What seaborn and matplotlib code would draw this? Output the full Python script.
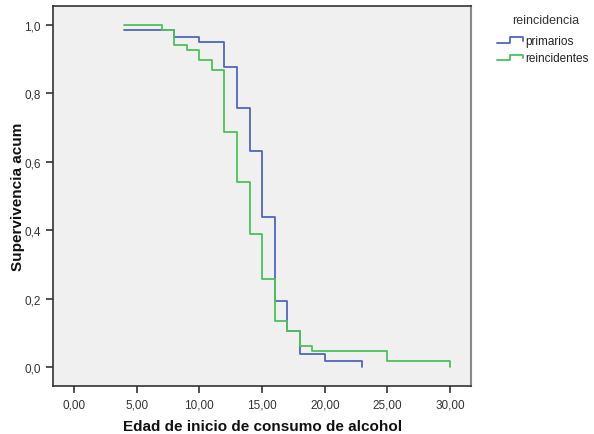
import matplotlib
matplotlib.use("Agg")
import matplotlib.pyplot as plt
import seaborn as sns
import pandas as pd
from matplotlib.legend_handler import HandlerBase
from matplotlib.lines import Line2D

# Data (Kaplan-Meier step values)
t_prim = [4, 8, 10, 12, 13, 14, 15, 16, 17, 18, 20, 23]
s_prim = [0.985, 0.965, 0.950, 0.878, 0.757, 0.632, 0.440, 0.194, 0.107, 0.038, 0.018, 0.0]
t_rein = [4, 7, 8, 9, 10, 11, 12, 13, 14, 15, 16, 17, 18, 19, 25, 30]
s_rein = [1.0, 0.986, 0.942, 0.927, 0.898, 0.867, 0.688, 0.540, 0.390, 0.257, 0.136, 0.107, 0.061, 0.046, 0.017, 0.0]
groups = ["primarios", "reincidentes"]
legend_title = "reincidencia"
xticks = [0, 5, 10, 15, 20, 25, 30]
xticklabels = ["0,00", "5,00", "10,00", "15,00", "20,00", "25,00", "30,00"]
yticks = [0.0, 0.2, 0.4, 0.6, 0.8, 1.0]
yticklabels = ["0,0", "0,2", "0,4", "0,6", "0,8", "1,0"]

df = pd.concat([
    pd.DataFrame({"t": t_prim, "s": s_prim, "reincidencia": groups[0]}),
    pd.DataFrame({"t": t_rein, "s": s_rein, "reincidencia": groups[1]}),
])

sns.set_style("white")
plt.rcParams["font.family"] = ["Liberation Sans", "DejaVu Sans"]

colors = {"primarios": "#4f67bd", "reincidentes": "#4cc25a"}

fig = plt.figure(figsize=(5.94, 4.35), dpi=100)
ax = fig.add_axes([53.3 / 594, 48 / 435, (471 - 53.3) / 594, (387 - 7.3) / 435])
ax.set_facecolor("#f0f0f0")

sns.lineplot(data=df, x="t", y="s", hue="reincidencia", palette=colors,
             estimator=None, sort=True, drawstyle="steps-post", linewidth=1.3,
             ax=ax, legend=False)

ax.set_xlim(-1.65, 31.66)
ax.set_ylim(-0.055, 1.054)
ax.set_xticks(xticks)
ax.set_xticklabels(xticklabels)
ax.set_yticks(yticks)
ax.set_yticklabels(yticklabels)
ax.tick_params(axis="both", direction="out", length=5, width=1.2, color="#333333",
               labelsize=8.5, labelcolor="#333333", pad=4)
ax.xaxis.set_tick_params(bottom=True)
ax.yaxis.set_tick_params(left=True)
for side, sp in ax.spines.items():
    sp.set_visible(True)
    sp.set_color("#333333")
    sp.set_linewidth(1.2)
ax.spines["right"].set_color("#888888")
ax.spines["right"].set_linewidth(1.5)

ax.set_xlabel("Edad de inicio de consumo de alcohol", fontsize=11, fontweight="bold",
              color="#111111", labelpad=6)
ax.set_ylabel("Supervivencia acum", fontsize=11, fontweight="bold", color="#111111")
ax.yaxis.set_label_coords((25 - 53.3) / 417.7, 0.5)


class StepHandler(HandlerBase):
    def create_artists(self, legend, orig_handle, xdescent, ydescent, width, height,
                       fontsize, trans):
        x0 = -xdescent
        y0 = -ydescent
        xs = [x0, x0 + width * 0.5, x0 + width * 0.5, x0 + width, x0 + width]
        ys = [y0 + height * 0.1, y0 + height * 0.1, y0 + height * 0.8,
              y0 + height * 0.8, y0 + height * 0.35]
        ln = Line2D(xs, ys, color=orig_handle.get_color(), linewidth=1.3)
        ln.set_transform(trans)
        return [ln]


fig.text(546 / 594, 1 - 21 / 435, legend_title, ha="center", va="center",
         fontsize=9, color="#333333")
handles = [Line2D([], [], color=colors[g]) for g in groups]
leg = fig.legend(handles, groups, loc="upper left",
                 bbox_to_anchor=(497 / 594, 1 - 36 / 435), frameon=False,
                 fontsize=8.5, handlelength=2.2, handletextpad=0.2,
                 labelspacing=0.45, borderaxespad=0, borderpad=0,
                 handler_map={Line2D: StepHandler()})
for txt in leg.get_texts():
    txt.set_color("#222222")

fig.savefig("out.png", dpi=100)
